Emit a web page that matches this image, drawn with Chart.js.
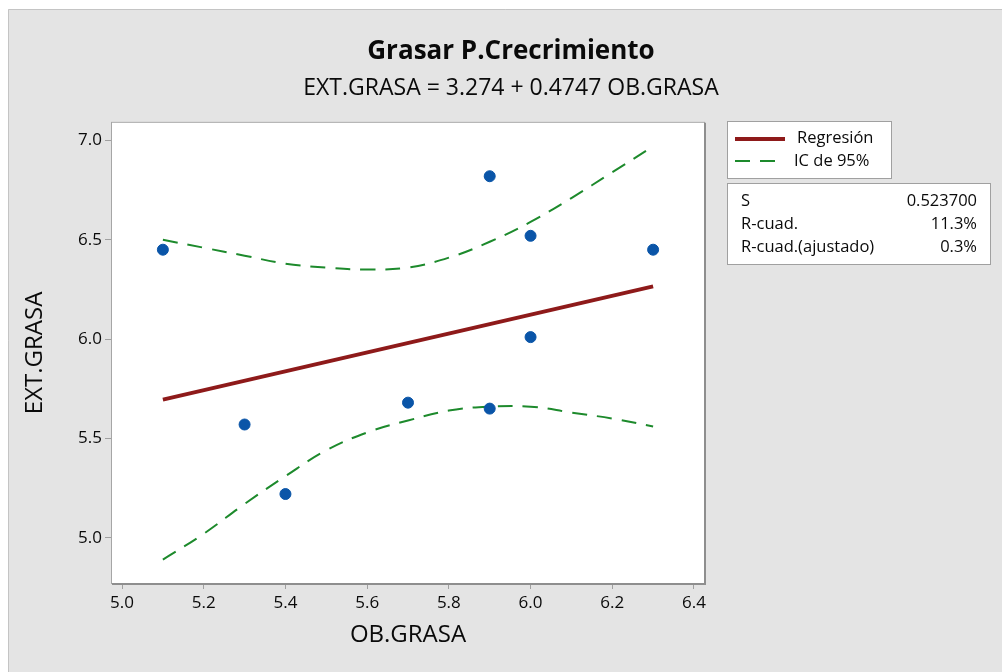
<!DOCTYPE html>
<html><head><meta charset="utf-8">
<script src="https://cdn.jsdelivr.net/npm/chart.js@4.4.1/dist/chart.umd.min.js"></script>
<style>html,body{margin:0;padding:0;background:#fff}#wrap{width:1002px;height:672px}</style>
</head><body><div id="wrap"><canvas id="c" width="1002" height="672"></canvas></div>
<script>
// ---- data ----
const obGrasa  = [5.1, 5.3, 5.4, 5.7, 5.9, 5.9, 6.0, 6.0, 6.3];
const extGrasa = [6.45, 5.57, 5.22, 5.68, 6.82, 5.65, 6.52, 6.01, 6.45];
const fitX = [5.1, 6.3];
const fitY = [5.695, 6.265];
const bandX   = [5.1, 5.2, 5.3, 5.4, 5.5, 5.6, 5.7, 5.8, 5.9, 6.0, 6.1, 6.2, 6.3];
const upperCI = [6.50, 6.46, 6.42, 6.38, 6.36, 6.35, 6.36, 6.41, 6.49, 6.59, 6.71, 6.84, 6.97];
const lowerCI = [4.89, 5.02, 5.17, 5.31, 5.44, 5.53, 5.59, 5.64, 5.66, 5.66, 5.63, 5.60, 5.56];
const xTicks = [5.0, 5.2, 5.4, 5.6, 5.8, 6.0, 6.2, 6.4];
const yTicks = [5.0, 5.5, 6.0, 6.5, 7.0];
const titleText = 'Grasar P.Crecrimiento';
const subtitleText = 'EXT.GRASA = 3.274 + 0.4747 OB.GRASA';
const xTitle = 'OB.GRASA';
const yTitle = 'EXT.GRASA';
const legendLabels = ['Regresión', 'IC de 95%'];
const statLabels = ['S', 'R-cuad.', 'R-cuad.(ajustado)'];
const statValues = ['0.523700', '11.3%', '0.3%'];

const FONT = "'Open Sans', 'Noto Sans', sans-serif";
const RED = '#8e1a1a', GREEN = '#1d8a2c', BLUE = '#0a55a8';
const TXT = '#0a0a0a';
const zip = (xs, ys) => xs.map((x, i) => ({x, y: ys[i]}));

const bgPlugin = {
  id: 'bg',
  beforeDraw(chart) {
    const ctx = chart.ctx, a = chart.chartArea;
    ctx.save();
    ctx.fillStyle = '#ffffff';
    ctx.fillRect(0, 0, chart.width, chart.height);
    ctx.fillStyle = '#e4e4e4';
    ctx.fillRect(8, 9, chart.width - 8, chart.height - 9);
    ctx.strokeStyle = '#c4c4c4';
    ctx.lineWidth = 1;
    ctx.beginPath();
    ctx.moveTo(8.5, chart.height); ctx.lineTo(8.5, 9.5); ctx.lineTo(chart.width, 9.5);
    ctx.stroke();
    ctx.fillStyle = '#ffffff';
    ctx.fillRect(a.left, a.top, a.right - a.left, a.bottom - a.top);
    ctx.restore();
  },
  afterDraw(chart) {
    const ctx = chart.ctx, a = chart.chartArea;
    ctx.save();
    // plot frame
    ctx.strokeStyle = '#a6a6a6';
    ctx.lineWidth = 1;
    ctx.strokeRect(a.left + 0.5, a.top + 0.5, a.right - a.left - 1, a.bottom - a.top - 1);
    ctx.strokeStyle = '#8e8e8e';
    ctx.lineWidth = 2;
    ctx.beginPath();
    ctx.moveTo(a.right, a.top + 1); ctx.lineTo(a.right, a.bottom); ctx.lineTo(a.left + 1, a.bottom);
    ctx.stroke();
    // legend box
    const lx = 727, ly = 121, lw = 164, lh = 57;
    ctx.fillStyle = '#ffffff';
    ctx.fillRect(lx, ly, lw, lh);
    ctx.strokeStyle = '#a0a0a0';
    ctx.lineWidth = 1;
    ctx.strokeRect(lx + 0.5, ly + 0.5, lw, lh);
    ctx.lineWidth = 3.8;
    ctx.strokeStyle = RED;
    ctx.beginPath(); ctx.moveTo(735, 139); ctx.lineTo(785, 139); ctx.stroke();
    ctx.lineWidth = 2;
    ctx.strokeStyle = GREEN;
    ctx.setLineDash([15, 10]);
    ctx.beginPath(); ctx.moveTo(735, 161); ctx.lineTo(783, 161); ctx.stroke();
    ctx.setLineDash([]);
    ctx.fillStyle = TXT;
    ctx.font = '16.5px ' + FONT;
    ctx.textBaseline = 'middle';
    ctx.textAlign = 'left';
    ctx.fillText(legendLabels[0], 797, 138);
    ctx.fillText(legendLabels[1], 794, 161);
    // stats box
    const sx = 727, sy = 183, sw = 263, sh = 81;
    ctx.fillStyle = '#ffffff';
    ctx.fillRect(sx, sy, sw, sh);
    ctx.strokeStyle = '#a0a0a0';
    ctx.lineWidth = 1;
    ctx.strokeRect(sx + 0.5, sy + 0.5, sw, sh);
    ctx.fillStyle = TXT;
    const rows = [201, 224, 247];
    statLabels.forEach((t, i) => { ctx.textAlign = 'left'; ctx.fillText(t, 741, rows[i]); });
    statValues.forEach((t, i) => { ctx.textAlign = 'right'; ctx.fillText(t, 977, rows[i]); });
    ctx.restore();
  }
};

new Chart(document.getElementById('c'), {
  type: 'scatter',
  data: {
    datasets: [
      { label: legendLabels[1], type: 'line', data: zip(bandX, upperCI), borderColor: GREEN, borderWidth: 2,
        borderDash: [15, 10], pointRadius: 0, tension: 0.4, fill: false, order: 3 },
      { label: legendLabels[1] + ' inf', type: 'line', data: zip(bandX, lowerCI), borderColor: GREEN, borderWidth: 2,
        borderDash: [15, 10], pointRadius: 0, tension: 0.4, fill: false, order: 3 },
      { label: legendLabels[0], type: 'line', data: zip(fitX, fitY), borderColor: RED, borderWidth: 3.8,
        pointRadius: 0, fill: false, order: 2 },
      { label: 'Datos', data: zip(obGrasa, extGrasa), backgroundColor: BLUE, borderColor: BLUE,
        pointRadius: 5.5, pointHoverRadius: 5.5, order: 1 }
    ]
  },
  options: {
    responsive: false,
    devicePixelRatio: 1,
    animation: false,
    events: [],
    layout: { padding: { left: 20, top: 0, right: 0, bottom: 0 } },
    plugins: {
      legend: { display: false },
      tooltip: { enabled: false },
      title: { display: true, text: titleText, color: TXT,
        font: { family: FONT, size: 26, weight: 'bold', lineHeight: 1.2 },
        padding: { top: 36, bottom: 0 } },
      subtitle: { display: true, text: subtitleText, color: TXT,
        font: { family: FONT, size: 23, lineHeight: 1.2 },
        padding: { top: 7, bottom: 20 } }
    },
    scales: {
      x: {
        type: 'linear', min: 4.973, max: 6.427,
        afterFit(s) { s.height = 88; },
        afterBuildTicks(s) { s.ticks = xTicks.map(v => ({ value: v })); },
        grid: { drawOnChartArea: false, drawTicks: true, tickLength: 5, color: '#a0a0a0' },
        border: { display: false },
        ticks: { color: TXT, font: { family: FONT, size: 17 }, padding: 4,
          callback: v => Number(v).toFixed(1), maxRotation: 0 },
        title: { display: true, text: xTitle, color: TXT, font: { family: FONT, size: 24 },
          padding: { top: 0, bottom: 22 } }
      },
      y: {
        type: 'linear', min: 4.767, max: 7.094,
        afterFit(s) { s.width = 91; },
        afterBuildTicks(s) { s.ticks = yTicks.map(v => ({ value: v })); },
        grid: { drawOnChartArea: false, drawTicks: true, tickLength: 6, color: '#a0a0a0' },
        border: { display: false },
        ticks: { color: TXT, font: { family: FONT, size: 17 }, padding: 3,
          callback: v => Number(v).toFixed(1) },
        title: { display: true, text: yTitle, color: TXT, font: { family: FONT, size: 24 },
          padding: { top: 1, bottom: 0 } }
      },
      spacer: {
        type: 'linear', position: 'right', display: true, min: 0, max: 1,
        afterFit(s) { s.width = 297; },
        grid: { display: false, drawTicks: false },
        border: { display: false },
        ticks: { display: false },
        title: { display: false }
      }
    }
  },
  plugins: [bgPlugin]
});
</script></body></html>
